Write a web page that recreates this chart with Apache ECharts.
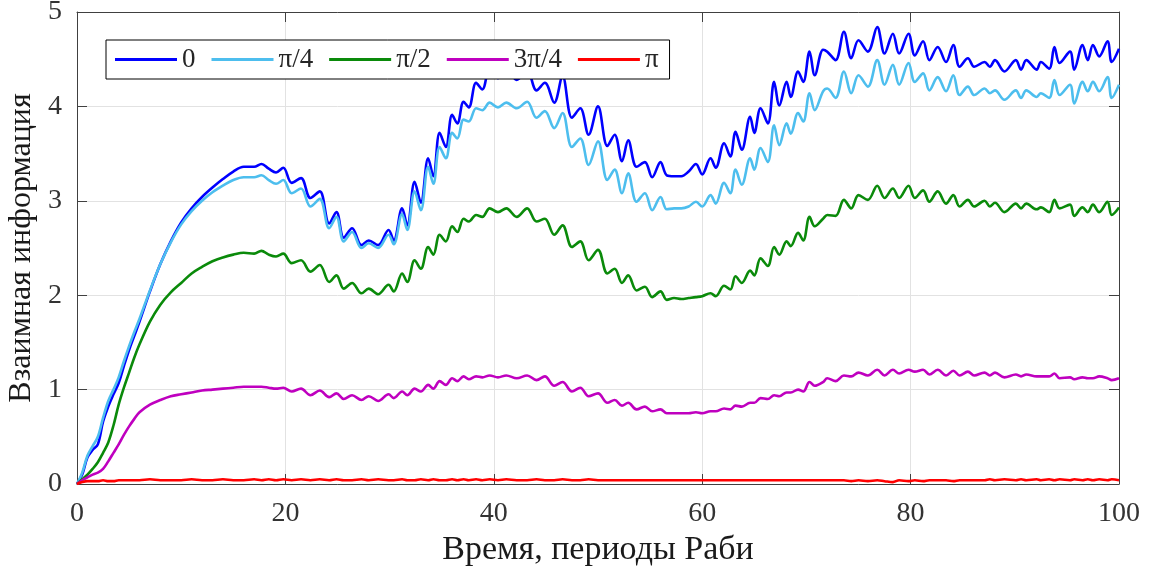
<!DOCTYPE html>
<html>
<head>
<meta charset="utf-8">
<script src="https://cdn.jsdelivr.net/npm/echarts@6/dist/echarts.min.js"></script>
<style>
    html, body { margin: 0; padding: 0; background: #fff; }
    #chart { width: 1173px; height: 574px; }
</style>
</head>
<body>
<div id="chart"></div>
<script>
// time, Rabi periods (shared by all curves)
const time = [
    0, 0.5, 1, 1.5, 2, 2.5, 3, 3.5, 4, 4.5,
    5, 5.5, 6, 7, 8, 9, 10, 11, 12, 13,
    14, 15, 16, 17, 17.7, 18.4, 19.1, 19.8, 20.6, 21.5,
    22.4, 23.3, 24.2, 24.9, 25.6, 26.4, 27.3, 28.0, 28.9, 29.9,
    30.4, 31.2, 31.7, 32.4, 33.0, 33.7, 34.2, 34.8, 35.4, 36.0,
    36.5, 37.1, 37.6, 38.3, 38.9, 39.6, 40.4, 41.2, 42.2, 43.2,
    44.1, 44.9, 45.8, 46.6, 47.5, 48.3, 49.1, 50.0, 50.9, 51.6,
    52.3, 52.9, 53.7, 54.5, 55.2, 56.0, 56.6, 57.3, 58.0, 58.7,
    59.4, 60.0, 60.8, 61.3, 62.1, 62.7, 63.2, 63.8, 64.6, 65.0,
    65.6, 66.3, 66.9, 67.4, 68.1, 68.5, 69.2, 69.7, 70.3, 70.8,
    71.6, 72.0, 72.8, 73.6, 74.3, 75.0, 75.9, 76.8, 77.5, 78.3,
    78.9, 79.8, 80.4, 81.2, 81.8, 82.6, 83.4, 84.1, 84.7, 85.5,
    86.1, 87.1, 87.6, 88.1, 89.0, 90.1, 90.6, 91.1, 92.1, 92.5,
    93.3, 93.8, 94.3, 95.3, 95.7, 96.5, 97.0, 97.5, 98.1, 98.9,
    99.3, 100
];

// phase 0
const phase0 = [
    0, 0.10, 0.28, 0.36, 0.42, 0.66, 0.82, 0.95, 1.07, 1.25,
    1.42, 1.57, 1.72, 2.04, 2.33, 2.57, 2.77, 2.92, 3.04, 3.14,
    3.23, 3.31, 3.36, 3.36, 3.39, 3.34, 3.30, 3.35, 3.19, 3.24,
    3.03, 3.10, 2.76, 2.88, 2.61, 2.71, 2.53, 2.58, 2.53, 2.69,
    2.58, 2.92, 2.74, 3.20, 2.98, 3.45, 3.26, 3.72, 3.57, 3.91,
    3.82, 4.05, 3.99, 4.25, 4.18, 4.40, 4.30, 4.40, 4.28, 4.38,
    4.17, 4.25, 4.04, 4.32, 3.88, 3.98, 3.70, 4.00, 3.58, 3.70,
    3.42, 3.64, 3.36, 3.41, 3.25, 3.41, 3.27, 3.26, 3.26, 3.31,
    3.39, 3.28, 3.45, 3.35, 3.61, 3.47, 3.73, 3.54, 3.89, 3.72,
    3.98, 3.82, 4.26, 4.01, 4.26, 4.10, 4.37, 4.26, 4.58, 4.33,
    4.60, 4.58, 4.49, 4.79, 4.51, 4.70, 4.58, 4.84, 4.56, 4.77,
    4.56, 4.77, 4.54, 4.69, 4.49, 4.63, 4.47, 4.65, 4.42, 4.51,
    4.42, 4.47, 4.42, 4.49, 4.37, 4.49, 4.39, 4.49, 4.39, 4.47,
    4.40, 4.63, 4.46, 4.58, 4.39, 4.65, 4.49, 4.65, 4.53, 4.69,
    4.47, 4.61
];

// phase pi/4
const phaseQuarter = [
    0, 0.12, 0.30, 0.40, 0.50, 0.70, 0.88, 1.00, 1.13, 1.30,
    1.46, 1.61, 1.75, 2.05, 2.33, 2.56, 2.75, 2.89, 3.00, 3.09,
    3.16, 3.22, 3.25, 3.25, 3.27, 3.22, 3.18, 3.22, 3.08, 3.13,
    2.94, 3.02, 2.71, 2.83, 2.57, 2.67, 2.50, 2.55, 2.50, 2.64,
    2.54, 2.86, 2.69, 3.10, 2.90, 3.36, 3.18, 3.57, 3.45, 3.72,
    3.66, 3.86, 3.84, 3.98, 3.96, 4.04, 3.99, 4.04, 3.98, 4.05,
    3.88, 3.95, 3.77, 3.93, 3.57, 3.66, 3.38, 3.63, 3.22, 3.33,
    3.08, 3.29, 2.99, 3.08, 2.90, 3.04, 2.91, 2.92, 2.92, 2.94,
    2.99, 2.94, 3.06, 2.97, 3.19, 3.08, 3.33, 3.17, 3.45, 3.33,
    3.56, 3.41, 3.80, 3.59, 3.82, 3.71, 3.93, 3.84, 4.14, 3.96,
    4.16, 4.19, 4.09, 4.37, 4.14, 4.33, 4.21, 4.49, 4.23, 4.44,
    4.23, 4.46, 4.26, 4.35, 4.17, 4.31, 4.16, 4.33, 4.12, 4.21,
    4.12, 4.19, 4.14, 4.17, 4.07, 4.17, 4.09, 4.17, 4.10, 4.14,
    4.09, 4.28, 4.12, 4.23, 4.03, 4.26, 4.16, 4.26, 4.16, 4.31,
    4.09, 4.23
];

// phase pi/2
const phaseHalf = [
    0, 0.05, 0.10, 0.16, 0.23, 0.33, 0.44, 0.62, 0.84, 1.02,
    1.18, 1.34, 1.48, 1.72, 1.90, 2.03, 2.13, 2.23, 2.30, 2.36,
    2.40, 2.43, 2.45, 2.44, 2.47, 2.43, 2.41, 2.44, 2.34, 2.37,
    2.25, 2.32, 2.14, 2.21, 2.07, 2.13, 2.02, 2.07, 2.01, 2.11,
    2.04, 2.23, 2.14, 2.37, 2.28, 2.51, 2.43, 2.64, 2.57, 2.73,
    2.67, 2.81, 2.78, 2.85, 2.83, 2.92, 2.88, 2.92, 2.83, 2.92,
    2.78, 2.81, 2.64, 2.74, 2.51, 2.57, 2.37, 2.48, 2.23, 2.28,
    2.13, 2.21, 2.05, 2.09, 1.98, 2.04, 1.95, 1.97, 1.96, 1.97,
    1.98, 1.99, 2.02, 1.99, 2.10, 2.06, 2.20, 2.13, 2.26, 2.21,
    2.39, 2.31, 2.51, 2.43, 2.57, 2.52, 2.66, 2.58, 2.83, 2.73,
    2.81, 2.85, 2.84, 3.01, 2.92, 3.06, 3.01, 3.16, 3.03, 3.13,
    3.03, 3.16, 3.03, 3.11, 2.99, 3.10, 2.97, 3.06, 2.94, 3.01,
    2.94, 3.00, 2.94, 2.98, 2.88, 2.97, 2.92, 2.97, 2.91, 2.93,
    2.88, 3.01, 2.92, 2.96, 2.84, 2.93, 2.88, 2.96, 2.88, 2.99,
    2.85, 2.93
];

// phase 3pi/4
const phaseThreeQuarter = [
    0, 0.04, 0.07, 0.10, 0.12, 0.16, 0.24, 0.33, 0.42, 0.52,
    0.61, 0.69, 0.76, 0.84, 0.89, 0.93, 0.95, 0.97, 0.99, 1.00,
    1.01, 1.02, 1.03, 1.03, 1.03, 1.02, 1.01, 1.02, 0.98, 1.01,
    0.94, 0.99, 0.92, 0.96, 0.90, 0.94, 0.89, 0.93, 0.88, 0.95,
    0.91, 0.98, 0.94, 1.01, 0.98, 1.05, 1.01, 1.09, 1.05, 1.12,
    1.09, 1.14, 1.11, 1.14, 1.13, 1.15, 1.13, 1.15, 1.12, 1.15,
    1.10, 1.14, 1.04, 1.08, 0.98, 1.02, 0.93, 0.96, 0.86, 0.89,
    0.83, 0.86, 0.79, 0.82, 0.77, 0.79, 0.75, 0.75, 0.75, 0.75,
    0.76, 0.75, 0.77, 0.77, 0.80, 0.79, 0.83, 0.82, 0.86, 0.86,
    0.91, 0.90, 0.94, 0.93, 0.97, 0.97, 1.00, 0.98, 1.08, 1.04,
    1.08, 1.12, 1.09, 1.15, 1.14, 1.18, 1.15, 1.21, 1.15, 1.21,
    1.17, 1.21, 1.19, 1.21, 1.16, 1.21, 1.15, 1.20, 1.15, 1.19,
    1.15, 1.18, 1.15, 1.18, 1.13, 1.16, 1.14, 1.16, 1.14, 1.14,
    1.14, 1.17, 1.12, 1.13, 1.11, 1.13, 1.12, 1.12, 1.14, 1.12,
    1.10, 1.12
];

// phase pi
const phasePi = [
    0, 0.02, 0.03, 0.03, 0.03, 0.04, 0.03, 0.03, 0.04, 0.04,
    0.04, 0.04, 0.04, 0.05, 0.04, 0.04, 0.04, 0.05, 0.04, 0.04,
    0.05, 0.04, 0.04, 0.05, 0.04, 0.05, 0.04, 0.05, 0.04, 0.05,
    0.04, 0.05, 0.04, 0.05, 0.04, 0.04, 0.05, 0.04, 0.05, 0.04,
    0.04, 0.05, 0.04, 0.04, 0.05, 0.04, 0.05, 0.04, 0.04, 0.05,
    0.04, 0.05, 0.04, 0.05, 0.04, 0.05, 0.04, 0.05, 0.04, 0.04,
    0.05, 0.04, 0.04, 0.05, 0.04, 0.04, 0.05, 0.04, 0.04, 0.04,
    0.04, 0.04, 0.04, 0.04, 0.04, 0.04, 0.04, 0.04, 0.04, 0.04,
    0.04, 0.04, 0.04, 0.04, 0.04, 0.04, 0.04, 0.04, 0.04, 0.04,
    0.04, 0.04, 0.04, 0.04, 0.04, 0.04, 0.04, 0.04, 0.04, 0.04,
    0.04, 0.04, 0.04, 0.04, 0.03, 0.04, 0.03, 0.04, 0.03, 0.02,
    0.04, 0.03, 0.04, 0.03, 0.04, 0.04, 0.04, 0.03, 0.04, 0.04,
    0.04, 0.04, 0.05, 0.04, 0.05, 0.04, 0.05, 0.04, 0.05, 0.04,
    0.05, 0.04, 0.05, 0.04, 0.05, 0.04, 0.05, 0.04, 0.05, 0.04,
    0.05, 0.04
];

const seriesNames = ["0", "π/4", "π/2", "3π/4", "π"];
const seriesColors = ["#0000ff", "#4dbeee", "#0a8a0a", "#bf00bf", "#ff0000"];
const seriesValues = [phase0, phaseQuarter, phaseHalf, phaseThreeQuarter, phasePi];

const xTicks = { min: 0, max: 100, interval: 20 };
const yTicks = { min: 0, max: 5, interval: 1 };

const serif = '"Liberation Serif", "DejaVu Serif", serif';
const frameColor = "#404040";
const gridColor = "#e2e2e2";

const chart = echarts.init(document.getElementById("chart"));

function frameAxis(extra) {
    return Object.assign({
        type: "value",
        axisLine: { show: true, onZero: false, lineStyle: { color: frameColor, width: 1 } },
        axisTick: { show: true, inside: true, length: 10, lineStyle: { color: frameColor } },
        axisLabel: { show: false },
        splitLine: { show: false }
    }, extra);
}

chart.setOption({
    animation: false,
    textStyle: { fontFamily: serif },
    grid: { left: 77, right: 54, top: 12, bottom: 90, outerBoundsMode: "none" },
    legend: {
        left: 106,
        top: 40,
        backgroundColor: "#ffffff",
        borderColor: "#000000",
        borderWidth: 1,
        padding: [6, 11, 6, 9],
        icon: "rect",
        itemWidth: 62,
        itemHeight: 3,
        itemGap: 16,
        textStyle: { fontFamily: serif, fontSize: 27, color: "#262626" },
        data: seriesNames
    },
    xAxis: [
        frameAxis({
            position: "bottom",
            min: xTicks.min,
            max: xTicks.max,
            interval: xTicks.interval,
            name: "Время, периоды Раби",
            nameLocation: "middle",
            nameGap: 46,
            nameTextStyle: { fontFamily: serif, fontSize: 34, color: "#1a1a1a" },
            axisLabel: { show: true, margin: 16, fontFamily: serif, fontSize: 28, color: "#333333" },
            splitLine: { show: true, lineStyle: { color: gridColor, width: 1 } }
        }),
        frameAxis({
            position: "top",
            min: xTicks.min,
            max: xTicks.max,
            interval: xTicks.interval
        })
    ],
    yAxis: [
        frameAxis({
            position: "left",
            min: yTicks.min,
            max: yTicks.max,
            interval: yTicks.interval,
            name: "Взаимная информация",
            nameLocation: "middle",
            nameGap: 34,
            nameTextStyle: { fontFamily: serif, fontSize: 32, color: "#1a1a1a" },
            axisLabel: { show: true, margin: 15, fontFamily: serif, fontSize: 28, color: "#333333" },
            splitLine: { show: true, lineStyle: { color: gridColor, width: 1 } }
        }),
        frameAxis({
            position: "right",
            min: yTicks.min,
            max: yTicks.max,
            interval: yTicks.interval
        })
    ],
    series: seriesNames.map((name, k) => ({
        name: name,
        type: "line",
        xAxisIndex: 0,
        yAxisIndex: 0,
        showSymbol: false,
        symbol: "none",
        smooth: 0.35,
        color: seriesColors[k],
        lineStyle: { width: 2.6, color: seriesColors[k] },
        data: time.map((t, i) => [t, seriesValues[k][i]])
    }))
});
</script>
</body>
</html>
